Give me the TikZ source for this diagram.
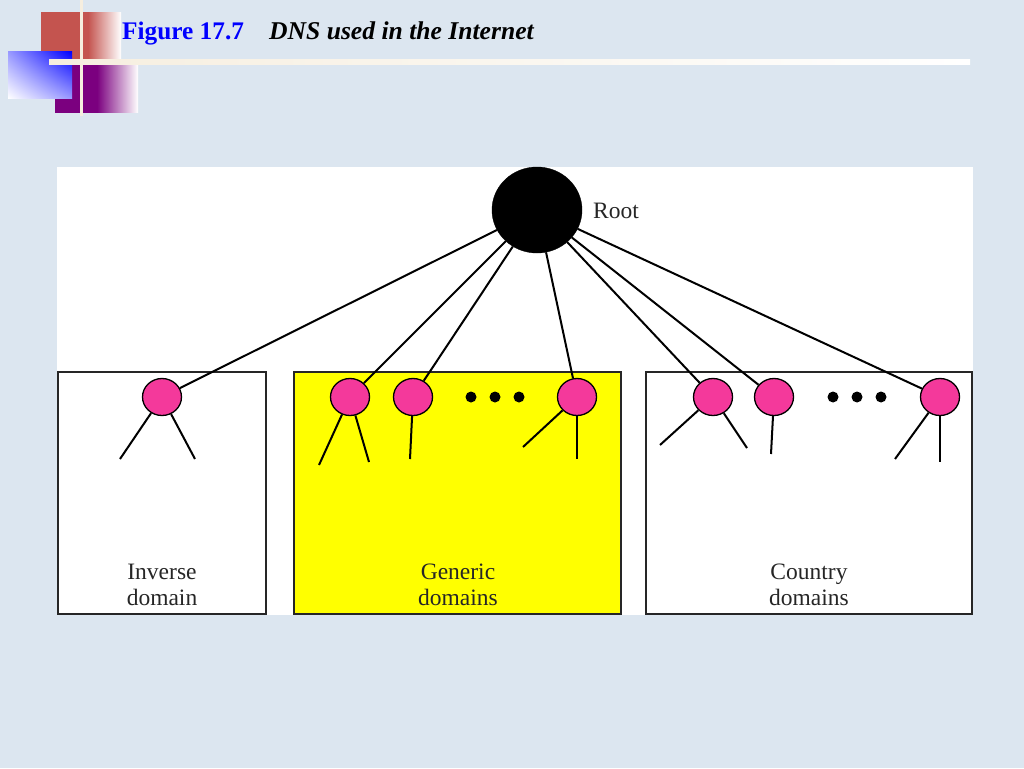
\documentclass[tikz,border=0pt]{standalone}
\usepackage{fontspec}
\setmainfont{Liberation Serif}
\usetikzlibrary{shapes.geometric,shadings}
\definecolor{slidebg}{HTML}{DCE6F0}
\definecolor{nodepink}{HTML}{F4399B}
\definecolor{cream}{HTML}{F6EEDF}
\definecolor{brick}{HTML}{C4544F}
\definecolor{plum}{HTML}{7B007F}
\definecolor{mauve}{HTML}{B08FB4}
\definecolor{boxyellow}{rgb}{1,1,0}
\tikzstyle{rootnode} = [draw=black, fill=black, ellipse, minimum width=90, minimum height=86, inner sep=0]
\tikzstyle{dnsnode} = [draw=black, fill=nodepink, line width=1.3, ellipse, minimum width=39, minimum height=37, inner sep=0]
\tikzstyle{domainbox} = [draw=black!85, line width=1.1, rectangle, minimum height=242, inner sep=0]
\tikzstyle{domainlabel} = [font=\fontsize{23.5}{25.5}\selectfont, align=center, text=black!85, inner sep=0]
\tikzstyle{branch} = [draw=black, line width=2]
\tikzstyle{dotnode} = [fill=black, circle, minimum size=11, inner sep=0]

\begin{document}
\begin{tikzpicture}[x=1pt, y=-1pt]
\useasboundingbox (0,0) rectangle (1024,768);
\fill[slidebg] (0,0) rectangle (1024,768);

\fill[brick] (41,12) rectangle (88.5,60);
\shade[left color=brick, right color=white] (88,12.5) rectangle (121,59.5);
\fill[plum] (55,64) rectangle (97.5,113);
\shade[left color=plum, middle color=mauve, right color=white] (97,64.5) rectangle (138,112.5);
\shade[upper right=blue, lower left=white, upper left=blue!40!white, lower right=blue!40!white] (8,51.5) rectangle (72,98.5);
\fill[cream] (79.5,0) rectangle (83,116);
\shade[left color=cream, right color=white] (49,59) rectangle (970,64.5);

\node[anchor=base west, inner sep=0, text=blue, font=\bfseries\fontsize{25.3}{28}\selectfont] (figno) at (122,40) {Figure 17.7};
\node[anchor=base west, inner sep=0, font=\bfseries\itshape\fontsize{25.6}{28}\selectfont] (title) at (269,40) {DNS used in the Internet};

\fill[white] (57,167) rectangle (973,615);
\node[domainbox, fill=white, minimum width=208] (inverse) at (162,493) {};
\node[domainbox, fill=boxyellow, minimum width=327] (generic) at (457.5,493) {};
\node[domainbox, fill=white, minimum width=326] (country) at (809,493) {};

\node[rootnode] (root) at (537,210) {};
\node[anchor=base west, inner sep=0, font=\fontsize{23.5}{26}\selectfont, text=black!85] (rootlabel) at (593,218) {Root};

\node[dnsnode] (inv) at (162,397) {};
\node[dnsnode] (gena) at (350,397) {};
\node[dnsnode] (genb) at (413,397) {};
\node[dnsnode] (genc) at (577,397) {};
\node[dnsnode] (cona) at (713,397) {};
\node[dnsnode] (conb) at (774,397) {};
\node[dnsnode] (conc) at (940,397) {};

\foreach \n/\x in {gendota/471,gendotb/495,gendotc/519,condota/833,condotb/857,condotc/881}
    \node[dotnode] (\n) at (\x,397) {};

\foreach \n in {inv,gena,genb,genc,cona,conb,conc}
    \draw[branch] (root) -- (\n);

\coordinate (inva) at (120,459);
\coordinate (invb) at (195,459);
\coordinate (genaa) at (319,465);
\coordinate (genab) at (369,462);
\coordinate (genba) at (410,459);
\coordinate (genca) at (523,447);
\coordinate (gencb) at (577,459);
\coordinate (conaa) at (660,445);
\coordinate (conab) at (747,448);
\coordinate (conba) at (771,454);
\coordinate (conca) at (895,459);
\coordinate (concb) at (940,462);
\draw[branch] (inv) -- (inva);
\draw[branch] (inv) -- (invb);
\draw[branch] (gena) -- (genaa);
\draw[branch] (gena) -- (genab);
\draw[branch] (genb) -- (genba);
\draw[branch] (genc) -- (genca);
\draw[branch] (genc) -- (gencb);
\draw[branch] (cona) -- (conaa);
\draw[branch] (cona) -- (conab);
\draw[branch] (conb) -- (conba);
\draw[branch] (conc) -- (conca);
\draw[branch] (conc) -- (concb);

\node[domainlabel] (inverselabel) at (162,585) {Inverse\\domain};
\node[domainlabel] (genericlabel) at (458,585) {Generic\\domains};
\node[domainlabel] (countrylabel) at (809,585) {Country\\domains};
\end{tikzpicture}
\end{document}
